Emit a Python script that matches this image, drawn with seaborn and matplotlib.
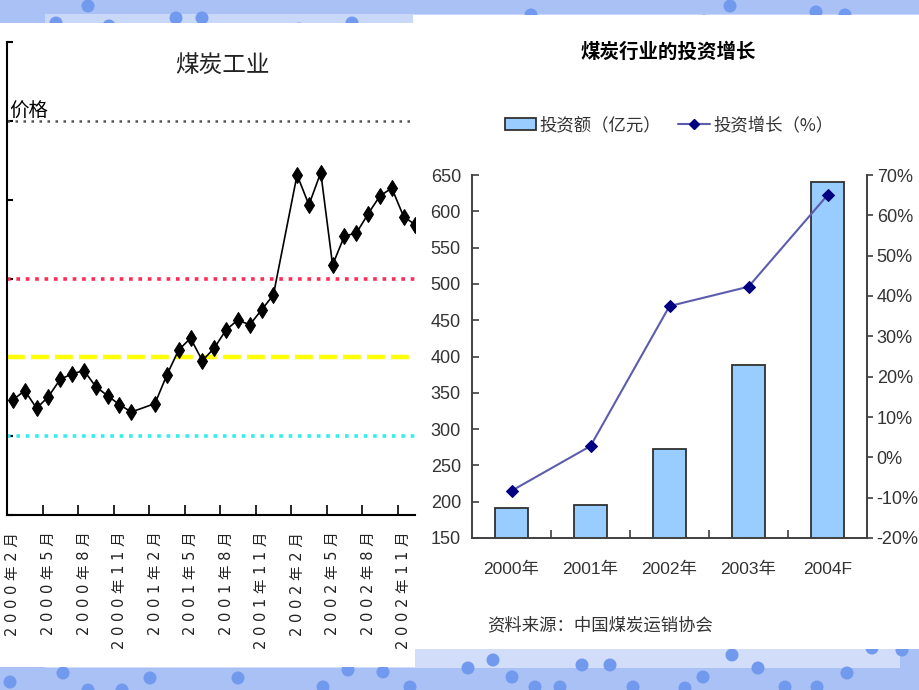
import numpy as np
import pandas as pd
import matplotlib
matplotlib.use("Agg")
import matplotlib.pyplot as plt
import seaborn as sns
from matplotlib.patches import Rectangle, Ellipse, Patch
from matplotlib.lines import Line2D
from matplotlib.ticker import FuncFormatter

# ---------------- data: left chart (煤炭工业 价格) ----------------
price_month_idx = [0, 1, 2, 3, 4, 5, 6, 7, 8, 9, 10, 12, 13, 14, 15, 16, 17, 18,
                   19, 20, 21, 22, 24, 25, 26, 27, 28, 29, 30, 31, 32, 33, 34]
price_values = [73.0, 78.9, 67.7, 75.1, 86.1, 89.5, 91.6, 81.4, 75.6, 70.0, 65.3,
                70.7, 88.8, 104.7, 112.1, 97.9, 105.8, 117.4, 123.7, 120.6, 130.1,
                139.6, 215.7, 196.7, 217.2, 158.6, 177.0, 178.7, 191.0, 202.4,
                207.3, 189.3, 184.0]
month_tick_idx = [0, 3, 6, 9, 12, 15, 18, 21, 24, 27, 30, 33]
month_labels = ["2000年2月", "2000年5月", "2000年8月", "2000年11月",
                "2001年2月", "2001年5月", "2001年8月", "2001年11月",
                "2002年2月", "2002年5月", "2002年8月", "2002年11月"]
ref_levels = [250, 150, 100, 50]
ref_colors = ["#555555", "#ff2a55", "#ffff00", "#33eeee"]

# ---------------- data: right chart (煤炭行业的投资增长) ----------------
years = ["2000年", "2001年", "2002年", "2003年", "2004F"]
invest = [192, 196, 272, 388, 641]
growth = [-8.3, 2.8, 37.5, 42.3, 65.0]

sns.set_style("white")
plt.rcParams["font.family"] = ["DejaVu Sans", "Noto Sans CJK SC"]
CJK = ["Noto Sans CJK SC", "DejaVu Sans"]
NUM = ["Liberation Sans", "Noto Sans CJK SC"]

W, H = 920, 690
fig = plt.figure(figsize=(W / 100, H / 100), dpi=100)
fig.patch.set_facecolor("#a9c1f4")


def fx(x):
    return x / W


def fy(y):
    return 1 - y / H


def rect(x0, y0, x1, y1, color, z):
    fig.add_artist(Rectangle((fx(x0), fy(y1)), fx(x1) - fx(x0), (y1 - y0) / H,
                             transform=fig.transFigure, facecolor=color,
                             edgecolor="none", zorder=z))


def dot(x, y, d=13):
    fig.add_artist(Ellipse((fx(x), fy(y)), d / W, d / H, transform=fig.transFigure,
                           facecolor="#7199ee", edgecolor="none", zorder=-9))


# decorative slide background
rect(45, 14, 920, 24, "#c9d7f8", -10)
rect(45, 648, 900, 668, "#d2def9", -10)
for (x, y) in [(56, 23), (88, 6), (109, 26), (176, 18), (202, 18), (299, 29), (352, 23),
               (440, 23), (472, 26), (531, 15), (584, 23), (616, 26), (704, 21),
               (730, 6), (745, 29), (816, 12), (845, 15)]:
    dot(x, y)
for (x, y) in [(10, 682), (63, 673), (88, 690), (122, 690), (150, 678), (238, 678),
               (323, 687), (348, 670), (383, 672), (410, 687), (468, 668), (493, 660),
               (512, 677), (535, 687), (560, 687), (582, 665), (610, 665), (633, 687),
               (685, 688), (703, 677), (732, 655), (758, 668), (785, 687), (817, 687),
               (847, 673), (872, 648), (902, 650)]:
    dot(x, y)
rect(0, 23, 415, 667, "white", -5)
rect(413, 15, 920, 649, "white", -5)

# ---------------- left chart ----------------
ax1 = fig.add_axes([fx(7), fy(515), (415 - 7) / W, (515 - 42) / H])
ax1.set_facecolor("none")
ax1.set_xlim(-0.5, 33.96)
ax1.set_ylim(0, 300)
styles = [(0, (1, 2.2)), (0, (1, 1.6)), (0, (4, 1.4)), (0, (1, 1.6))]
widths = [1.8, 2.6, 3.2, 2.6]
for lv, c, ls, lw in zip(ref_levels, ref_colors, styles, widths):
    ax1.axhline(lv, color=c, linestyle=ls, linewidth=lw, zorder=1)

df_price = pd.DataFrame({"month": price_month_idx, "price": price_values})
sns.lineplot(data=df_price, x="month", y="price", ax=ax1, color="black",
             linewidth=1.2, marker="d", markersize=8.5, markerfacecolor="black",
             markeredgecolor="black", zorder=3, clip_on=True)
ax1.set_xlabel("")
ax1.set_ylabel("")
for s in ["top", "right"]:
    ax1.spines[s].set_visible(False)
for s in ["left", "bottom"]:
    ax1.spines[s].set_color("black")
    ax1.spines[s].set_linewidth(1.5)
ax1.set_yticks(np.arange(0, 301, 50))
ax1.set_yticklabels([])
ax1.tick_params(axis="y", direction="in", length=4, width=1.5, color="black", left=True)


def spaced(s):
    return " ".join(list(s))


ax1.set_xticks([k - 0.5 for k in range(0, 34, 3)])
ax1.set_xticklabels([])
ax1.tick_params(axis="x", which="major", direction="in", length=7, width=1.2,
                color="black", bottom=True)
ax1.set_xticks(month_tick_idx, minor=True)
ax1.set_xticklabels([spaced(m) for m in month_labels], minor=True, rotation=90,
                    fontsize=10.5, color="#222222")
ax1.tick_params(axis="x", which="minor", length=0, pad=12)

fig.text(fx(222), fy(65), "煤炭工业", fontsize=17, ha="center", va="center",
         color="#222222", family=CJK)
fig.text(fx(9), fy(111), "价格", fontsize=14, ha="left", va="center",
         color="black", family=CJK)

# ---------------- right chart ----------------
ax2 = fig.add_axes([fx(472), fy(538), (867 - 472) / W, (538 - 175) / H])
ax2.set_facecolor("none")
df_inv = pd.DataFrame({"year": years, "invest": invest})
sns.barplot(data=df_inv, x="year", y="invest", ax=ax2, color="#99ccff",
            edgecolor="#303030", linewidth=1.3, width=0.42, saturation=1, zorder=2)
ax2.set_ylim(150, 650)
ax2.set_yticks(np.arange(150, 651, 50))
ax2.set_xlabel("")
ax2.set_ylabel("")

ax3 = ax2.twinx()
df_g = pd.DataFrame({"pos": np.arange(len(years)), "growth": growth})
sns.lineplot(data=df_g, x="pos", y="growth", ax=ax3, color="#5c5cae", linewidth=1.5,
             marker="D", markersize=6, markerfacecolor="#000080",
             markeredgecolor="#000080", zorder=3)
ax3.set_ylim(-20, 70)
ax3.set_yticks(np.arange(-20, 71, 10))
ax3.yaxis.set_major_formatter(FuncFormatter(lambda v, p: f"{v:.0f}%"))
ax3.set_ylabel("")
ax3.set_xlabel("")
ax2.set_xlim(-0.5, 4.5)

for s in ["top", "right"]:
    ax2.spines[s].set_visible(False)
for s in ["top", "left", "bottom"]:
    ax3.spines[s].set_visible(False)
for sp in [ax2.spines["left"], ax2.spines["bottom"], ax3.spines["right"]]:
    sp.set_color("#404040")
    sp.set_linewidth(1.4)

ax2.set_xticks(range(len(years)))
ax2.set_xticklabels(years, family=NUM, fontsize=12.5, color="#333333")
ax2.tick_params(axis="x", which="major", length=0, pad=17)
ax2.set_xticks([i + 0.5 for i in range(len(years) - 1)], minor=True)
ax2.tick_params(axis="x", which="minor", direction="in", length=6, width=1.2,
                color="#404040", bottom=True)
ax2.tick_params(axis="y", direction="in", length=5, width=1.2, color="#404040",
                left=True, pad=8, labelsize=13, labelcolor="#333333")
ax3.tick_params(axis="y", direction="out", length=4, width=1.2, color="#404040",
                right=True, pad=3, labelsize=13, labelcolor="#333333")
for lab in ax2.get_yticklabels() + ax3.get_yticklabels():
    lab.set_family(NUM)

fig.text(fx(668), fy(52), "煤炭行业的投资增长", fontsize=14, fontweight="bold",
         ha="center", va="center", color="black", family=CJK)
handles = [Patch(facecolor="#99ccff", edgecolor="#303030", linewidth=1.3),
           Line2D([0], [0], color="#5c5cae", linewidth=1.5, marker="D", markersize=5,
                  markerfacecolor="#000080", markeredgecolor="#000080")]
leg = fig.legend(handles, ["投资额（亿元）", "投资增长（%）"], loc="center",
                 bbox_to_anchor=(fx(669), fy(125)), ncol=2, frameon=False,
                 handlelength=1.8, handletextpad=0.2, columnspacing=1.0,
                 prop={"family": CJK, "size": 12.5})
for t in leg.get_texts():
    t.set_color("#333333")
fig.text(fx(487), fy(625), "资料来源：中国煤炭运销协会", fontsize=12.5, ha="left",
         va="center", color="#333333", family=CJK)

fig.savefig("out.png", dpi=100, facecolor=fig.get_facecolor())
